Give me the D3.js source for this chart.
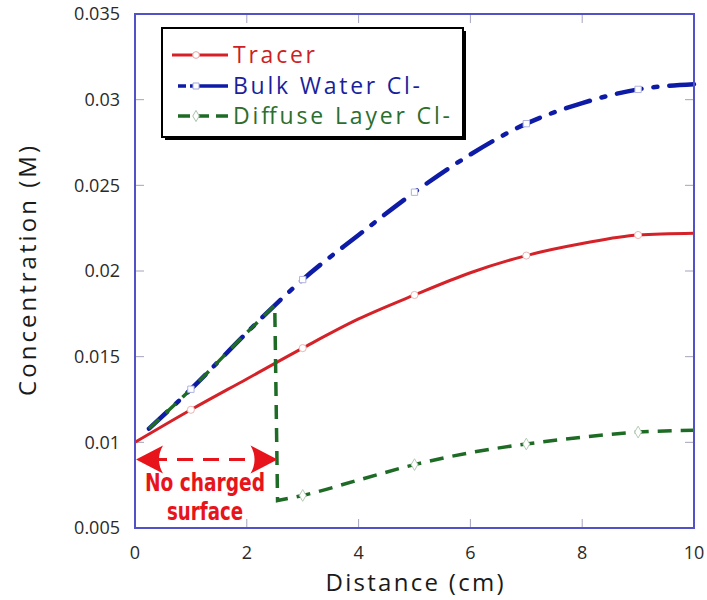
<!DOCTYPE html>
<html>
<head>
<meta charset="utf-8">
<title>Concentration vs distance</title>
<script src="https://d3js.org/d3.v7.min.js"></script>
<style>
  body { margin: 0; background: #fff; }
  svg { display: block; }
</style>
</head>
<body>
<div id="chart"></div>
<script>
// data
const dist = [0, 1, 2, 3, 4, 5, 6, 7, 8, 9, 10];
const tracer = [0.0100, 0.0119, 0.0137, 0.0155, 0.0172, 0.0186, 0.0199, 0.0209, 0.0216, 0.0221, 0.0222];

const bulkX = [0.25, 1, 2, 2.5, 3, 4, 5, 6, 7, 8, 9, 10];
const bulk = [0.0108, 0.0131, 0.0164, 0.0180, 0.0195, 0.0221, 0.0246, 0.0268, 0.0286, 0.0298, 0.0306, 0.0309];

// diffuse layer: follows bulk until the charged surface starts, then drops
const diffPreX = [0.25, 1, 2, 2.5];
const diffPre = [0.0108, 0.0131, 0.0164, 0.0180];
const diffPostX = [2.55, 3, 4, 5, 6, 7, 8, 9, 10];
const diffPost = [0.0066, 0.0069, 0.0078, 0.0087, 0.0094, 0.0099, 0.0103, 0.0106, 0.0107];

const markX = [1, 3, 5, 7, 9];
const xTicks = [0, 2, 4, 6, 8, 10];
const yTicks = [0.005, 0.01, 0.015, 0.02, 0.025, 0.03, 0.035];
const yTickLabels = ["0.005", "0.01", "0.015", "0.02", "0.025", "0.03", "0.035"];

const arrowY = 0.009, arrowX0 = 0, arrowX1 = 2.55;

const W = 707, H = 600;
const margin = { top: 14, right: 13, bottom: 72, left: 135 };
const font = "'Open Sans', sans-serif";

const svg = d3.select("#chart").append("svg")
    .attr("width", W).attr("height", H);

const x = d3.scaleLinear().domain([0, 10]).range([margin.left, W - margin.right]);
const y = d3.scaleLinear().domain([0.005, 0.035]).range([H - margin.bottom, margin.top]);

const zip = (xs, ys) => xs.map((v, i) => [v, ys[i]]);
const line = d3.line().x(d => x(d[0])).y(d => y(d[1])).curve(d3.curveMonotoneX);

// ticks on all four sides, pointing in
const tickLen = 9;
const tickG = svg.append("g").attr("stroke", "#a4a4bc").attr("stroke-width", 1);
xTicks.slice(1, -1).forEach(t => {
    tickG.append("line").attr("x1", x(t)).attr("x2", x(t)).attr("y1", y.range()[0]).attr("y2", y.range()[0] - tickLen);
    tickG.append("line").attr("x1", x(t)).attr("x2", x(t)).attr("y1", y.range()[1]).attr("y2", y.range()[1] + tickLen);
});
yTicks.slice(1, -1).forEach(t => {
    tickG.append("line").attr("y1", y(t)).attr("y2", y(t)).attr("x1", x.range()[0]).attr("x2", x.range()[0] + tickLen);
    tickG.append("line").attr("y1", y(t)).attr("y2", y(t)).attr("x1", x.range()[1]).attr("x2", x.range()[1] - tickLen);
});

// tick labels
svg.append("g").selectAll("text").data(xTicks).join("text")
    .attr("x", d => x(d)).attr("y", H - margin.bottom + 31)
    .attr("text-anchor", "middle")
    .style("font", `18px ${font}`).attr("fill", "#2a2a2a")
    .text(d => d);
svg.append("g").selectAll("text").data(yTicks).join("text")
    .attr("x", margin.left - 15).attr("y", d => y(d)).attr("dy", "0.35em")
    .attr("text-anchor", "end")
    .style("font", `18px ${font}`).attr("fill", "#2a2a2a")
    .text((d, i) => yTickLabels[i]);

// axis titles
svg.append("text")
    .attr("x", (x.range()[0] + x.range()[1]) / 2).attr("y", H - 9)
    .attr("text-anchor", "middle")
    .style("font", `24px ${font}`).attr("fill", "#1a1a1a")
    .attr("textLength", 178)
    .text("Distance (cm)");
svg.append("text")
    .attr("transform", `translate(36,${(y.range()[0] + y.range()[1]) / 2}) rotate(-90)`)
    .attr("text-anchor", "middle")
    .style("font", `24px ${font}`).attr("fill", "#1a1a1a")
    .attr("textLength", 250)
    .text("Concentration (M)");

// series
const red = "#d42228", blue = "#0d1ba6", green = "#1e6b26";

svg.append("path")
    .attr("d", line(zip(dist, tracer)))
    .attr("fill", "none").attr("stroke", red).attr("stroke-width", 3);

svg.append("path")
    .attr("d", line(zip(bulkX, bulk)))
    .attr("fill", "none").attr("stroke", blue).attr("stroke-width", 4.5)
    .attr("stroke-linecap", "round")
    .attr("stroke-dasharray", "25,12,4,12");

svg.append("path")
    .attr("d", line(zip(diffPreX, diffPre)) + line(zip(diffPostX, diffPost)).replace(/^M/, "L"))
    .attr("fill", "none").attr("stroke", green).attr("stroke-width", 3.5)
    .attr("stroke-dasharray", "14,9");

// faint hollow markers
const symSize = 40;
function markers(xs, ys, type, col) {
    const pts = zip(xs, ys).filter(d => markX.includes(d[0]));
    svg.append("g").selectAll("path").data(pts).join("path")
        .attr("transform", d => `translate(${x(d[0])},${y(d[1])})`)
        .attr("d", d3.symbol(type, symSize))
        .attr("fill", "#fff").attr("stroke", col).attr("stroke-width", 1);
}
markers(dist, tracer, d3.symbolCircle, "#ecb4b4");
markers(bulkX, bulk, d3.symbolSquare, "#b0b4e0");
markers(diffPostX, diffPost, d3.symbolDiamond, "#b4ccb4");

// "no charged surface" arrow
const arrowRed = "#e8141c";
svg.append("line")
    .attr("x1", x(arrowX0) + 16).attr("x2", x(arrowX1) - 16)
    .attr("y1", y(arrowY)).attr("y2", y(arrowY))
    .attr("stroke", arrowRed).attr("stroke-width", 3)
    .attr("stroke-dasharray", "16,10");
const head = "M0,0 L-27,-14 Q-19,0 -27,14 Z";
svg.append("path").attr("d", head)
    .attr("transform", `translate(${x(arrowX1)},${y(arrowY)})`).attr("fill", arrowRed);
svg.append("path").attr("d", head)
    .attr("transform", `translate(${x(arrowX0) + 1},${y(arrowY)}) rotate(180)`).attr("fill", arrowRed);

const noteX = x(arrowX0) + 70;
const noteFont = "bold 24px 'DejaVu Sans Condensed', 'DejaVu Sans', sans-serif";
svg.append("text")
    .attr("x", noteX).attr("y", y(arrowY) + 32)
    .attr("text-anchor", "middle")
    .style("font", noteFont)
    .attr("fill", arrowRed).attr("textLength", 120).attr("lengthAdjust", "spacingAndGlyphs")
    .text("No charged");
svg.append("text")
    .attr("x", noteX).attr("y", y(arrowY) + 61)
    .attr("text-anchor", "middle")
    .style("font", noteFont)
    .attr("fill", arrowRed).attr("textLength", 76).attr("lengthAdjust", "spacingAndGlyphs")
    .text("surface");

// plot frame
svg.append("rect")
    .attr("x", x.range()[0]).attr("y", y.range()[1])
    .attr("width", x.range()[1] - x.range()[0]).attr("height", y.range()[0] - y.range()[1])
    .attr("fill", "none").attr("stroke", "#5252c8").attr("stroke-width", 2);

// legend
const lg = { x: 162, y: 28, w: 301, h: 109 };
svg.append("rect")
    .attr("x", lg.x + 3).attr("y", lg.y + 3).attr("width", lg.w).attr("height", lg.h)
    .attr("fill", "#000");
svg.append("rect")
    .attr("x", lg.x).attr("y", lg.y).attr("width", lg.w).attr("height", lg.h)
    .attr("fill", "#fff").attr("stroke", "#000").attr("stroke-width", 2);

const legendItems = [
    { name: "Tracer", col: red, textCol: "#cc1f26", dash: null, width: 3, sym: d3.symbolCircle, symCol: "#e8a4a4", len: 82 },
    { name: "Bulk Water Cl-", col: blue, textCol: "#1a1f9c", dash: "8,4,30,0", width: 3.5, sym: d3.symbolSquare, symCol: "#a4a8dc", len: 187 },
    { name: "Diffuse Layer Cl-", col: green, textCol: "#2b6e2e", dash: "12,7", width: 3.5, sym: d3.symbolDiamond, symCol: "#a8c4a8", len: 217 }
];
const rowY = [55, 86, 116];
legendItems.forEach((it, i) => {
    const ly = rowY[i];
    const l = svg.append("line")
        .attr("x1", lg.x + 10 + (i ? 6 : 0)).attr("x2", lg.x + 66).attr("y1", ly).attr("y2", ly)
        .attr("stroke", it.col).attr("stroke-width", it.width);
    if (it.dash) l.attr("stroke-dasharray", it.dash);
    svg.append("path")
        .attr("transform", `translate(${lg.x + 34},${ly})`)
        .attr("d", d3.symbol(it.sym, 36))
        .attr("fill", "#fff").attr("stroke", it.symCol);
    svg.append("text")
        .attr("x", lg.x + 71).attr("y", ly).attr("dy", "0.35em")
        .style("font", `23px ${font}`).attr("fill", it.textCol)
        .attr("textLength", it.len)
        .text(it.name);
});
</script>
</body>
</html>
